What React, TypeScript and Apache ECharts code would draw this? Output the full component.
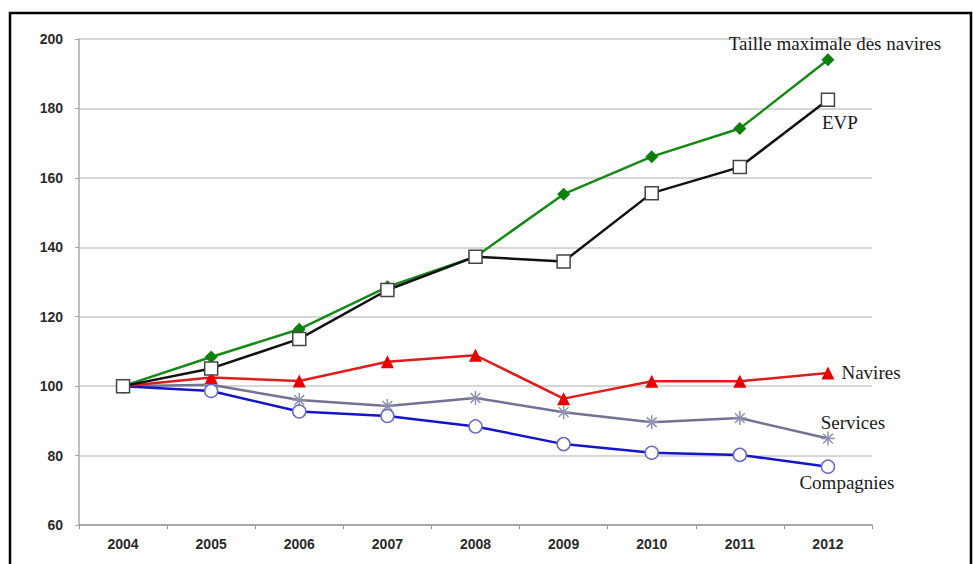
import React, { useEffect, useRef } from "react";
import * as echarts from "echarts";

const years = ["2004", "2005", "2006", "2007", "2008", "2009", "2010", "2011", "2012"];

const tailleMax = [100, 108.4, 116.4, 128.6, 137.3, 155.3, 166.1, 174.2, 194];
const evp = [100, 105.1, 113.6, 127.7, 137.3, 135.9, 155.6, 163.1, 182.5];
const navires = [100, 102.5, 101.5, 107, 108.9, 96.4, 101.4, 101.4, 103.8];
const services = [100, 100.4, 96, 94.3, 96.6, 92.5, 89.6, 90.8, 84.9];
const compagnies = [100, 98.6, 92.7, 91.4, 88.4, 83.3, 80.8, 80.2, 76.8];

const ASTERISK = "path://M0,5L10,5M5,0L5,10M1.5,1.5L8.5,8.5M8.5,1.5L1.5,8.5";

type LabelCfg = { position: string; offset: number[]; distance?: number };

function endLabelled(values: number[], name: string, cfg: LabelCfg) {
  return values.map((v, i) =>
    i === values.length - 1
      ? {
          value: v,
          label: {
            show: true,
            formatter: name,
            position: cfg.position,
            offset: cfg.offset,
            distance: cfg.distance ?? 5,
            fontFamily: "Liberation Serif, Times New Roman, serif",
            fontSize: 19,
            color: "#1a1a1a",
          },
        }
      : v
  );
}

export default function App() {
  const ref = useRef<HTMLDivElement>(null);

  useEffect(() => {
    if (!ref.current) return;
    const chart = echarts.init(ref.current, undefined, { renderer: "svg" });
    const sansBold = {
      fontFamily: "Liberation Sans, Arial, sans-serif",
      fontWeight: "bold" as const,
      fontSize: 14,
      color: "#2a2a2a",
    };
    chart.setOption({
      animation: false,
      backgroundColor: "#fff",
      grid: { left: 79, right: 101, top: 39, bottom: 39, containLabel: false },
      graphic: [
        {
          type: "rect",
          shape: { x: 10, y: 13, width: 961, height: 580 },
          style: { fill: "none", stroke: "#000", lineWidth: 2.5 },
          silent: true,
        },
      ],
      xAxis: {
        type: "category",
        data: years,
        boundaryGap: true,
        axisLine: { lineStyle: { color: "#9a9a9a", width: 1.5 } },
        axisTick: { show: true, length: 4, lineStyle: { color: "#9a9a9a" } },
        axisLabel: { ...sansBold, margin: 12 },
        splitLine: { show: false },
      },
      yAxis: {
        type: "value",
        min: 60,
        max: 200,
        interval: 20,
        axisLine: { show: true, lineStyle: { color: "#a8a8a8", width: 1.5 } },
        axisTick: { show: true, length: 4, lineStyle: { color: "#a8a8a8" } },
        axisLabel: { ...sansBold, margin: 16 },
        splitLine: { show: true, lineStyle: { color: "#c9c9c9", width: 1.5 } },
      },
      series: [
        {
          name: "Services",
          type: "line",
          data: endLabelled(services, "Services", { position: "top", offset: [25, 6] }),
          symbol: ASTERISK,
          symbolSize: 14,
          lineStyle: { color: "#727294", width: 2.5 },
          itemStyle: { color: "rgba(0,0,0,0)", borderColor: "#9090b0", borderWidth: 1.5 },
          z: 2,
        },
        {
          name: "Compagnies",
          type: "line",
          data: endLabelled(compagnies, "Compagnies", { position: "bottom", offset: [19, -6] }),
          symbol: "circle",
          symbolSize: 13,
          lineStyle: { color: "#1414c8", width: 2.5 },
          itemStyle: { color: "#fff", borderColor: "#6a6ac0", borderWidth: 1.5 },
          z: 3,
        },
        {
          name: "Navires",
          type: "line",
          data: endLabelled(navires, "Navires", { position: "right", offset: [1, 0], distance: 6 }),
          symbol: "triangle",
          symbolSize: 13,
          lineStyle: { color: "#e01c1c", width: 2.5 },
          itemStyle: { color: "#e60000", borderColor: "#e60000", borderWidth: 0 },
          z: 4,
        },
        {
          name: "Taille maximale des navires",
          type: "line",
          data: endLabelled(tailleMax, "Taille maximale des navires", { position: "top", offset: [7, 5] }),
          symbol: "diamond",
          symbolSize: 13,
          lineStyle: { color: "#168a16", width: 2.5 },
          itemStyle: { color: "#0c800c", borderColor: "#0c800c", borderWidth: 0 },
          z: 5,
        },
        {
          name: "EVP",
          type: "line",
          data: endLabelled(evp, "EVP", { position: "bottom", offset: [12, 1] }),
          symbol: "rect",
          symbolSize: 13,
          lineStyle: { color: "#111", width: 2.5 },
          itemStyle: { color: "#fff", borderColor: "#444", borderWidth: 1.5 },
          z: 6,
        },
      ],
    });
    return () => chart.dispose();
  }, []);

  return (
    <div
      ref={ref}
      style={{ position: "fixed", left: 0, top: 0, width: 973, height: 564, background: "#fff" }}
    />
  );
}
